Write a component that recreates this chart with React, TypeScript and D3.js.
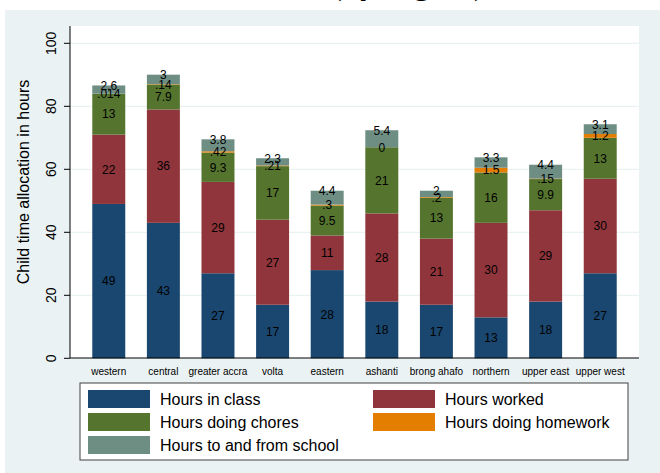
import React from 'react';
import * as d3 from 'd3';

const regions = [
  'western',
  'central',
  'greater accra',
  'volta',
  'eastern',
  'ashanti',
  'brong ahafo',
  'northern',
  'upper east',
  'upper west',
];

const seriesNames = [
  'Hours in class',
  'Hours worked',
  'Hours doing chores',
  'Hours doing homework',
  'Hours to and from school',
];

const hoursClass = [49, 43, 27, 17, 28, 18, 17, 13, 18, 27];
const hoursWorked = [22, 36, 29, 27, 11, 28, 21, 30, 29, 30];
const hoursChores = [13, 7.9, 9.3, 17, 9.5, 21, 13, 16, 9.9, 13];
const hoursHomework = [0.014, 0.14, 0.42, 0.21, 0.3, 0, 0.2, 1.5, 0.15, 1.2];
const hoursTravel = [2.6, 3, 3.8, 2.3, 4.4, 5.4, 2, 3.3, 4.4, 3.1];

const yTicks = [0, 20, 40, 60, 80, 100];

const colors = ['#1a476f', '#90353b', '#55752f', '#e37e00', '#6e8e84'];

// Stata-style labels (.014 instead of 0.014)
const fmt = (v: number) => {
  const s = String(v);
  return s.startsWith('0.') ? s.slice(1) : s;
};

const W = 660;
const H = 473;
const plot = { left: 70, right: 639, top: 26, bottom: 358 };
const font = '"Liberation Sans", Arial, sans-serif';

export default function App() {
  const series = [hoursClass, hoursWorked, hoursChores, hoursHomework, hoursTravel];
  const rows = regions.map((r, i) => {
    const o: any = { region: r };
    series.forEach((s, k) => (o['s' + k] = s[i]));
    return o;
  });
  const stacked = d3.stack<any>().keys(series.map((_, k) => 's' + k))(rows);

  const x = d3
    .scaleBand<string>()
    .domain(regions)
    .range([plot.left, plot.right])
    .paddingInner(0.396)
    .paddingOuter(0.408);

  const y = d3.scaleLinear().domain([0, 100]).range([358.3, 43.3]);

  const legendItems = [
    { name: seriesNames[0], c: colors[0], col: 0, row: 0 },
    { name: seriesNames[1], c: colors[1], col: 1, row: 0 },
    { name: seriesNames[2], c: colors[2], col: 0, row: 1 },
    { name: seriesNames[3], c: colors[3], col: 1, row: 1 },
    { name: seriesNames[4], c: colors[4], col: 0, row: 2 },
  ];
  const legendX = [88, 373];
  const legendY = [399, 422, 445];

  return (
    <svg
      width={W}
      height={H}
      style={{ position: 'absolute', left: 0, top: 0 }}
      fontFamily={font}
    >
      <rect width={W} height={H} fill='#ffffff' />
      <rect x={5} y={10} width={W - 5} height={H - 10} fill='#eaf2f3' />
      {/* title sits mostly above the crop, only its descenders show */}
      <text
        x={485}
        y={-6}
        textAnchor='end'
        fontFamily='"Liberation Serif", "Times New Roman", serif'
        fontWeight='bold'
        fontSize={33}
        fill='#000'
      >
        Child time allocation (by region)
      </text>

      <rect
        x={plot.left}
        y={plot.top}
        width={plot.right - plot.left}
        height={plot.bottom - plot.top}
        fill='#ffffff'
      />

      {yTicks
        .filter((t) => t > 0)
        .map((t) => (
          <line
            key={'g' + t}
            x1={plot.left}
            x2={plot.right}
            y1={y(t)}
            y2={y(t)}
            stroke='#eaf2f3'
            strokeWidth={1.2}
          />
        ))}

      {stacked.map((layer, k) => (
        <g key={'l' + k} fill={colors[k]}>
          {layer.map((d, i) => (
            <rect
              key={i}
              x={x(regions[i])}
              width={x.bandwidth()}
              y={y(d[1])}
              height={Math.max(0, y(d[0]) - y(d[1]))}
            />
          ))}
        </g>
      ))}

      {stacked.map((layer, k) => (
        <g key={'t' + k} fontSize={12} fill='#000' textAnchor='middle'>
          {layer.map((d, i) => {
            const cy = k === series.length - 1 ? y(d[1]) : (y(d[0]) + y(d[1])) / 2;
            return (
              <text
                key={i}
                x={(x(regions[i]) as number) + x.bandwidth() / 2}
                y={cy}
                dy='0.36em'
              >
                {fmt(series[k][i])}
              </text>
            );
          })}
        </g>
      ))}

      <line x1={plot.left} x2={plot.left} y1={plot.top} y2={plot.bottom} stroke='#000' />
      <line x1={plot.left} x2={plot.right} y1={plot.bottom} y2={plot.bottom} stroke='#000' />

      {yTicks.map((t) => (
        <g key={'y' + t}>
          <line x1={plot.left - 6} x2={plot.left} y1={y(t)} y2={y(t)} stroke='#000' />
          <text
            transform={`translate(56,${y(t)}) rotate(-90)`}
            textAnchor='middle'
            fontSize={14}
            fill='#000'
          >
            {t}
          </text>
        </g>
      ))}

      <text
        transform='translate(29,182) rotate(-90)'
        textAnchor='middle'
        fontSize={16}
        fill='#000'
      >
        Child time allocation in hours
      </text>

      {regions.map((r) => (
        <text
          key={'x' + r}
          x={(x(r) as number) + x.bandwidth() / 2}
          y={375}
          textAnchor='middle'
          fontSize={10}
          fill='#000'
        >
          {r}
        </text>
      ))}

      <rect x={80} y={383} width={548} height={77} fill='#ffffff' stroke='#404040' strokeWidth={1} />
      {legendItems.map((it) => (
        <g key={it.name}>
          <rect
            x={legendX[it.col]}
            y={legendY[it.row] - 9}
            width={62}
            height={18}
            fill={it.c}
          />
          <text
            x={legendX[it.col] + 72}
            y={legendY[it.row]}
            dy='0.36em'
            fontSize={16}
            fill='#000'
          >
            {it.name}
          </text>
        </g>
      ))}
    </svg>
  );
}
